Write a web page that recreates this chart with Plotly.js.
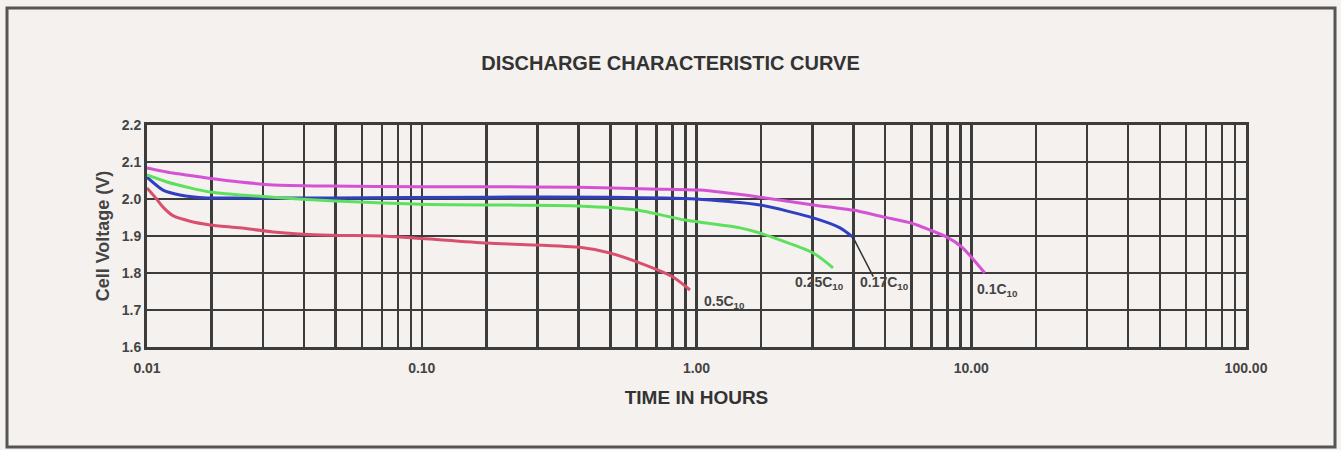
<!DOCTYPE html>
<html>
<head>
<meta charset="utf-8">
<script src="https://cdn.plot.ly/plotly-3.0.1.min.js"></script>
<style>
html,body{margin:0;padding:0;background:#f4f1ee;}
#chart{width:1341px;height:450px;}
</style>
</head>
<body>
<div id="chart"></div>
<script>
// ---- data (time in hours, cell voltage in V) ----
const seriesNames = ["0.5C<sub>10</sub>", "0.25C<sub>10</sub>", "0.17C<sub>10</sub>", "0.1C<sub>10</sub>"];

const t05 = [0.01, 0.0107, 0.01144, 0.01243, 0.01434, 0.01696, 0.0218, 0.02875, 0.0464, 0.0723, 0.1729, 0.3704, 0.484, 0.607, 0.821, 0.947];
const v05 = [2.03, 2.005, 1.978, 1.955, 1.940, 1.930, 1.922, 1.911, 1.902, 1.900, 1.881, 1.870, 1.854, 1.830, 1.789, 1.754];

const t025 = [0.01, 0.01183, 0.01434, 0.01696, 0.0218, 0.02875, 0.0464, 0.0985, 0.3704, 0.607, 0.908, 1.44, 1.70, 2.66, 3.14];
const v025 = [2.065, 2.046, 2.030, 2.019, 2.011, 2.005, 1.995, 1.986, 1.981, 1.970, 1.943, 1.922, 1.908, 1.854, 1.814];

const t017 = [0.01, 0.01144, 0.01318, 0.01653, 0.0218, 0.0464, 0.1729, 0.484, 0.996, 1.70, 2.66, 3.33, 3.71];
const v017 = [2.059, 2.024, 2.011, 2.003, 2.003, 2.003, 2.005, 2.005, 2.000, 1.984, 1.949, 1.922, 1.897];

const t01 = [0.01, 0.01243, 0.01653, 0.0218, 0.02875, 0.0464, 0.0985, 0.1729, 0.3704, 0.677, 1.03, 1.70, 2.66, 3.71, 4.81, 6.04, 7.08, 8.16, 9.25, 10.0, 11.2];
const v01 = [2.084, 2.070, 2.057, 2.046, 2.038, 2.035, 2.033, 2.033, 2.032, 2.027, 2.024, 2.005, 1.984, 1.970, 1.951, 1.935, 1.916, 1.897, 1.870, 1.843, 1.800];

// ---- axis ticks / grid ----
const decades = [0.01, 0.1, 1, 10, 100];
const decadeLabels = ["0.01", "0.10", "1.00", "10.00", "100.00"];
const gridSteps = [1.72, 2.64, 3.72, 4.86, 6.05, 7.16, 8.18, 9.12]; // printed grid within each decade
const yTicks = [1.6, 1.7, 1.8, 1.9, 2.0, 2.1, 2.2];

const minorVals = [];
decades.slice(0, -1).forEach(d => gridSteps.forEach(s => minorVals.push(d * s)));

const colors = ["#d8506e", "#5ee05e", "#2f3fc4", "#d452d4"];
const traces = [
  {x: t01, y: v01, name: seriesNames[3], color: colors[3]},
  {x: t017, y: v017, name: seriesNames[2], color: colors[2]},
  {x: t025, y: v025, name: seriesNames[1], color: colors[1]},
  {x: t05, y: v05, name: seriesNames[0], color: colors[0]}
].map(s => ({
  type: 'scatter', mode: 'lines', x: s.x, y: s.y, name: s.name,
  line: {color: s.color, width: 3, shape: 'spline', smoothing: 0.6},
  hoverinfo: 'x+y'
}));

const FONT = 'Liberation Sans, Arial, sans-serif';
const lblFont = {family: FONT, size: 14, color: '#444', weight: 'bold'};
const tickFont = {family: FONT, size: 14, color: '#444', weight: 'bold'};
const lg = Math.log10;

const layout = {
  width: 1341, height: 450,
  paper_bgcolor: '#f4f1ee', plot_bgcolor: '#f4f1ee',
  margin: {l: 147, r: 95, t: 125, b: 103},
  showlegend: false,
  title: {
    text: '<b>DISCHARGE CHARACTERISTIC CURVE</b>',
    font: {family: FONT, size: 20, color: '#333'},
    x: 0.5, xref: 'container', xanchor: 'center',
    y: 1 - 63/450, yref: 'container', yanchor: 'middle'
  },
  xaxis: {
    type: 'log', range: [-2, 2], tickmode: 'array', tickvals: decades, ticktext: decadeLabels,
    showgrid: true, gridcolor: '#3c3c3c', gridwidth: 2.5,
    minor: {tickmode: 'array', tickvals: minorVals, showgrid: true, gridcolor: '#3c3c3c', gridwidth: 2.5, ticks: ''},
    showline: true, linecolor: '#3c3c3c', linewidth: 3, mirror: true,
    ticks: '', zeroline: false, ticklabelstandoff: 6,
    tickfont: tickFont,
    title: {text: '<b>TIME IN HOURS</b>', standoff: 16,
      font: {family: FONT, size: 19, color: '#333'}}
  },
  yaxis: {
    range: [1.6, 2.2], tickmode: 'array', tickvals: yTicks, ticktext: yTicks.map(v => v.toFixed(1)),
    showgrid: true, gridcolor: '#3c3c3c', gridwidth: 2.5,
    showline: true, linecolor: '#3c3c3c', linewidth: 3, mirror: true,
    ticks: '', zeroline: false,
    tickfont: tickFont,
    title: {text: '<b>Cell Voltage (V)</b>', standoff: 8,
      font: {family: FONT, size: 18, color: '#444'}}
  },
  shapes: [{
    type: 'rect', xref: 'paper', yref: 'paper',
    x0: (7 - 147) / 1099, x1: (1335 - 147) / 1099,
    y0: (347 - 447) / 222, y1: (347 - 8) / 222,
    line: {color: '#555', width: 3}, fillcolor: 'rgba(0,0,0,0)', layer: 'below'
  }, {
    // leader line from the 0.17C label to its curve (shape coords on log axis are data values)
    type: 'line', xref: 'x', yref: 'y',
    x0: 3.71, y0: 1.897, x1: 4.4, y1: 1.79,
    line: {color: '#333', width: 1.5}
  }],
  annotations: [
    {x: lg(1.26), y: 1.722, text: '<b>' + seriesNames[0] + '</b>', showarrow: false, font: lblFont},
    {x: lg(2.81), y: 1.772, text: '<b>' + seriesNames[1] + '</b>', showarrow: false, font: lblFont},
    {x: lg(4.85), y: 1.772, text: '<b>' + seriesNames[2] + '</b>', showarrow: false, font: lblFont},
    {x: lg(12.5), y: 1.754, text: '<b>' + seriesNames[3] + '</b>', showarrow: false, font: lblFont}
  ]
};

Plotly.newPlot('chart', traces, layout, {displayModeBar: false, staticPlot: true});
</script>
</body>
</html>
